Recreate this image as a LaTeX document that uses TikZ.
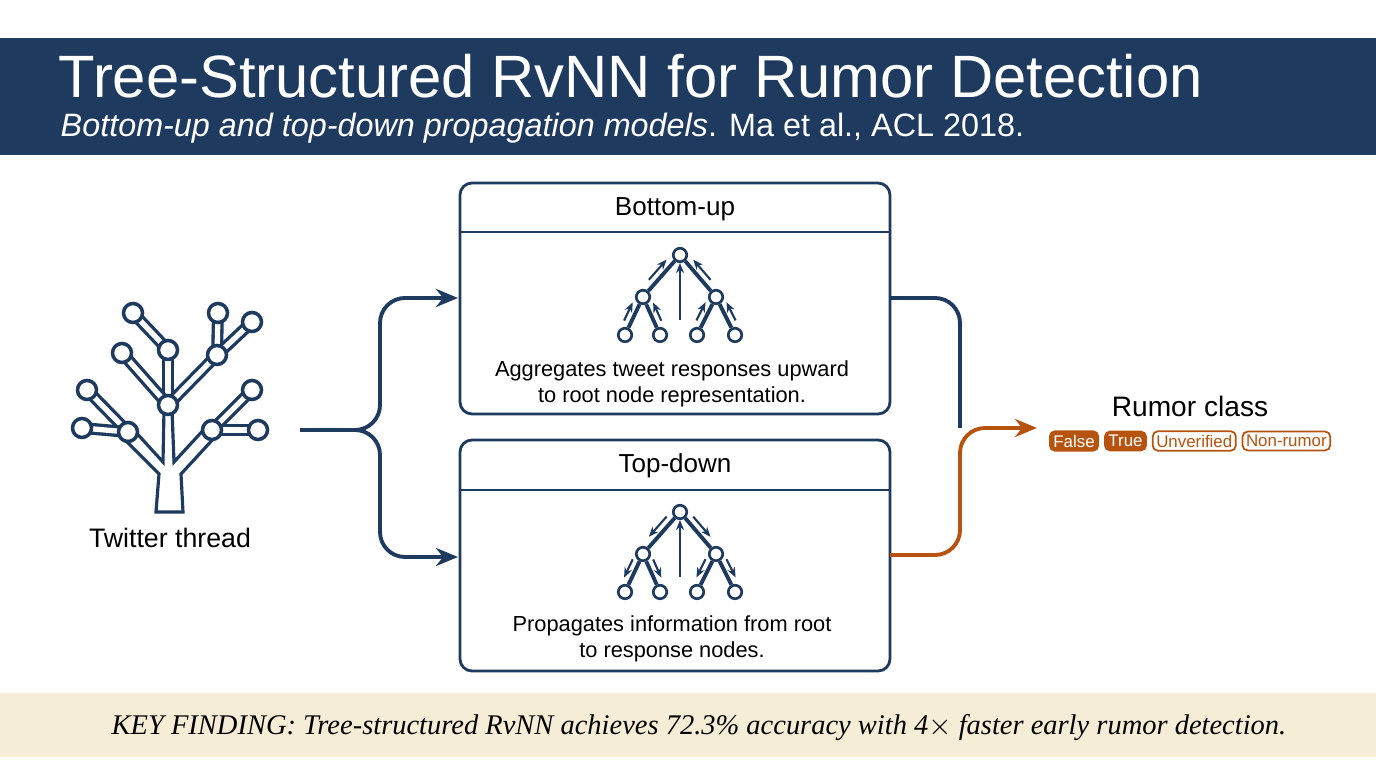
\documentclass[tikz,border=0pt]{standalone}
\usepackage{fontspec}
\setmainfont{Liberation Sans}
\newfontfamily\footfont{Liberation Serif}
\usetikzlibrary{arrows.meta,positioning,calc}
\definecolor{navy}{HTML}{1E3A5F}
\definecolor{rust}{HTML}{B5530F}
\definecolor{cream}{HTML}{F6EDD6}
\begin{document}
\begin{tikzpicture}[x=0.01cm,y=-0.01cm,>={Stealth[length=2.2mm,width=1.8mm]},
  panel/.style={draw=navy,line width=0.8pt,rounded corners=1.2mm},
  dot/.style={circle,draw=navy,line width=0.75pt,fill=white,minimum size=1.35mm,inner sep=0pt},
  twig/.style={draw=navy,line width=1.1pt},
  hint/.style={draw=navy,line width=0.6pt,>={Stealth[length=1mm,width=0.8mm]}},
  leaf/.style={circle,draw=navy,line width=1pt,fill=white,minimum size=1.9mm,inner sep=0pt},
  branch/.style={draw=navy,line width=0.95pt,double=white,double distance=1.5pt},
  body/.style={align=center,font=\fontsize{6.2}{7.6}\selectfont},
  tag/.style={rounded corners=0.5mm,draw=rust,line width=0.5pt,inner sep=0.35mm,font=\fontsize{4.8}{5}\selectfont}]
\useasboundingbox (0,0) rectangle (1376,768);
\fill[white] (0,0) rectangle (1376,768);
% header
\fill[navy] (0,38) rectangle (1376,155);
\node[anchor=west,white,inner sep=0] (title) at (58,76) {\fontsize{17}{19}\selectfont Tree-Structured RvNN for Rumor Detection};
\node[anchor=west,white,inner sep=0] (sub) at (60,128) {\fontsize{9.2}{11}\selectfont\textit{Bottom-up and top-down propagation models}. Ma et al., ACL 2018.};
% footer
\fill[cream] (0,693) rectangle (1376,757);
\node[inner sep=0] (key) at (699,728) {\footfont\itshape\fontsize{8.1}{10}\selectfont KEY FINDING: Tree-structured RvNN achieves 72.3\% accuracy with 4$\times$ faster early rumor detection.};
% twitter thread icon
\coordinate (t0) at (168,405); \coordinate (t1) at (168,350);
\coordinate (t2) at (133,313); \coordinate (t3) at (122,353);
\coordinate (t4) at (217,355); \coordinate (t5) at (218,313);
\coordinate (t6) at (252,322); \coordinate (t7) at (128,432);
\coordinate (t8) at (87,390);  \coordinate (t9) at (82,428);
\coordinate (t10) at (212,430); \coordinate (t11) at (252,390);
\coordinate (t12) at (258,430);
\draw[navy,line width=0.9pt,fill=white] (156,512) -- (159,474) -- (125,440) -- (131,427) -- (163,462)
   -- (164,410) -- (172,410) -- (174,462) -- (208,425) -- (216,436) -- (181,474) -- (183,512) -- cycle;
\foreach \a/\b in {t0/t1,t1/t2,t0/t3,t0/t4,t4/t5,t4/t6,t7/t8,t7/t9,t10/t11,t10/t12}
  \path[branch] (\a) -- (\b);
\foreach \n in {0,...,12} \node[leaf] (n\n) at (t\n) {};
\node (thread) at (170,538) {\fontsize{7.6}{9}\selectfont Twitter thread};
% panels
\draw[panel] (460,183) rectangle (890,414);
\draw[navy,line width=0.8pt] (460,232) -- (890,232);
\node (up) at (675,209) {\fontsize{7.4}{9}\selectfont Bottom-up};
\node[body] (uptext) at (672,384) {Aggregates tweet responses upward\\to root node representation.};
\draw[panel] (460,440) rectangle (890,671);
\draw[navy,line width=0.8pt] (460,490) -- (890,490);
\node (down) at (675,466) {\fontsize{7.4}{9}\selectfont Top-down};
\node[body] (downtext) at (672,639) {Propagates information from root\\to response nodes.};
% mini trees
\foreach \dy/\nm/\dir in {0/u/->,257/d/<-}{
  \node[dot] (\nm r) at (680,255+\dy) {};
  \node[dot] (\nm a) at (643,297+\dy) {};
  \node[dot] (\nm b) at (716,297+\dy) {};
  \node[dot] (\nm 1) at (625,335+\dy) {};
  \node[dot] (\nm 2) at (660,335+\dy) {};
  \node[dot] (\nm 3) at (697,335+\dy) {};
  \node[dot] (\nm 4) at (735,335+\dy) {};
  \foreach \c/\p in {a/r,b/r,1/a,2/a,3/b,4/b} \draw[twig] (\nm\c) -- (\nm\p);
  \foreach \c/\p/\s in {a/r/90,1/a/90,3/b/90,b/r/-90,2/a/-90,4/b/-90}
    \draw[hint,\dir] ($(\nm\c)!0.3!(\nm\p)!0.7mm!\s:(\nm\p)$) -- ($(\nm\c)!0.78!(\nm\p)!0.7mm!\s:(\nm\p)$);
  \coordinate (\nm s) at (680,320+\dy);
  \draw[hint,->] (\nm s) -- (\nm r);
}
% connectors
\coordinate (src) at (300,430);
\coordinate (mid) at (960,428);
\draw[navy,line width=1.1pt,->,rounded corners=2.5mm] (src) -- (380,430) |- (458,298);
\draw[navy,line width=1.1pt,->,rounded corners=2.5mm] (src) -- (380,430) |- (458,557);
\draw[navy,line width=1.1pt,rounded corners=2.5mm] (890,298) -| (mid);
\node (rumor) at (1190,406) {\fontsize{8}{10}\selectfont Rumor class};
\node[tag,fill=rust,text=white,anchor=west] (false) at (1049,441) {False};
\node[tag,fill=rust,text=white,right=0.5mm of false] (true) {True};
\node[tag,text=rust,right=0.5mm of true] (unver) {Unverified};
\node[tag,text=rust,right=0.5mm of unver] (nonr) {Non-rumor};
\coordinate (cls) at (1037,428);
\draw[rust,line width=1.1pt,->,rounded corners=2.5mm] (890,555) -| (mid) -- (cls);
\end{tikzpicture}
\end{document}
